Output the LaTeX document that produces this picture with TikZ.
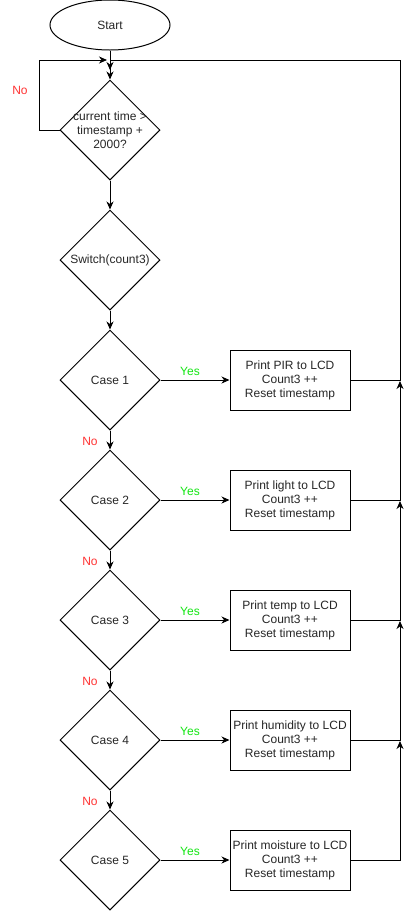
\documentclass[tikz,border=0pt]{standalone}
\usepackage{fontspec}
\setmainfont{Liberation Sans}
\usetikzlibrary{shapes.geometric,arrows.meta}

\definecolor{noRed}{RGB}{255,51,51}
\definecolor{yesGreen}{RGB}{20,230,20}

\begin{document}
\begin{tikzpicture}[x=1pt,y=-1pt,line width=1pt,
  font=\fontsize{12}{14}\selectfont,text=black!85,
  >={Stealth[length=8pt,width=7pt,inset=2.5pt]},
  decision/.style={diamond,draw,aspect=1,minimum width=100pt,minimum height=100pt,inner sep=0pt},
  action/.style={rectangle,draw,minimum width=120pt,minimum height=60pt,inner sep=0pt,align=center},
  yes/.style={text=yesGreen},
  no/.style={text=noRed}]

% Page size
\useasboundingbox (0,0) rectangle (409,911);

% Rail positions
\coordinate (railtop) at (400,60);
\coordinate (join) at (110,70);
\coordinate (loopend) at (107,60);
\coordinate (rail1) at (400,381);
\coordinate (rail2) at (400,501);
\coordinate (rail3) at (400,621);
\coordinate (rail4) at (400,741);

% Start and timer check
\node[ellipse,draw,minimum width=120pt,minimum height=50pt] (start) at (110,25) {Start};
\node[decision] (check) at (110,130) {};
\node[align=center] (checktext) at (check) {current time >\\timestamp +\\2000?};
\node[decision] (switch) at (110,260) {Switch(count3)};

% Cases
\node[decision] (case1) at (110,380) {Case 1};
\node[decision] (case2) at (110,500) {Case 2};
\node[decision] (case3) at (110,620) {Case 3};
\node[decision] (case4) at (110,740) {Case 4};
\node[decision] (case5) at (110,860) {Case 5};

% Actions
\node[action] (print1) at (290,380) {Print PIR to LCD\\Count3 ++\\Reset timestamp};
\node[action] (print2) at (290,500) {Print light to LCD\\Count3 ++\\Reset timestamp};
\node[action] (print3) at (290,620) {Print temp to LCD\\Count3 ++\\Reset timestamp};
\node[action] (print4) at (290,740) {Print humidity to LCD\\Count3 ++\\Reset timestamp};
\node[action] (print5) at (290,860) {Print moisture to LCD\\Count3 ++\\Reset timestamp};

% Main flow
\draw[->] (start) -- (check);
\draw[->] (check) -- (switch);
\draw[->] (switch) -- (case1);
\draw[->] (case1) -- (case2);
\draw[->] (case2) -- (case3);
\draw[->] (case3) -- (case4);
\draw[->] (case4) -- (case5);

% Yes branches
\draw[->] (case1) -- (print1);
\draw[->] (case2) -- (print2);
\draw[->] (case3) -- (print3);
\draw[->] (case4) -- (print4);
\draw[->] (case5) -- (print5);

% Wait loop
\draw[->] (check.west) -- ++(-20,0) |- (loopend);

% Return rail
\draw[->] (print1.east) -| (railtop) -| (join);
\draw[->] (print2.east) -| (rail1);
\draw[->] (print3.east) -| (rail2);
\draw[->] (print4.east) -| (rail3);
\draw[->] (print5.east) -| (rail4);

% Labels
\node[no] (no0) at (20,90) {No};
\node[yes] (yes1) at (190,371) {Yes};
\node[yes] (yes2) at (190,491) {Yes};
\node[yes] (yes3) at (190,611) {Yes};
\node[yes] (yes4) at (190,731) {Yes};
\node[yes] (yes5) at (190,851) {Yes};
\node[no] (no1) at (90,441) {No};
\node[no] (no2) at (90,561) {No};
\node[no] (no3) at (90,681) {No};
\node[no] (no4) at (90,801) {No};

\end{tikzpicture}
\end{document}
